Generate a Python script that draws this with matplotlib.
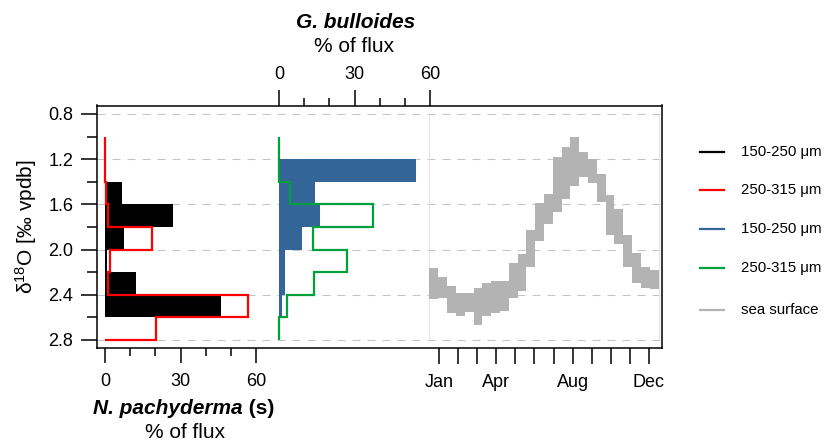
import numpy as np
import matplotlib.pyplot as plt
from matplotlib.lines import Line2D

plt.rcParams['font.family'] = ['Liberation Sans', 'DejaVu Sans']
plt.rcParams['mathtext.fontset'] = 'custom'
plt.rcParams['mathtext.rm'] = 'Liberation Sans'
plt.rcParams['mathtext.it'] = 'Liberation Sans:italic'
plt.rcParams['mathtext.bf'] = 'Liberation Sans:bold'

# d18O bins (per mil) and % of flux per size fraction
pachy_edges_small = [1.4, 1.6, 1.8, 2.0, 2.2, 2.4, 2.6, 2.8]
pachy_small = [6.6, 26.9, 7.5, 0.7, 12.3, 46.0, 0.0]
pachy_edges_large = [1.0, 1.2, 1.4, 1.6, 1.8, 2.0, 2.2, 2.4, 2.6, 2.8]
pachy_large = [0.0, 0.0, 0.4, 1.3, 18.5, 2.0, 1.3, 56.7, 20.2]

bull_edges_small = [1.2, 1.4, 1.6, 1.8, 2.0, 2.2, 2.4, 2.6]
bull_small = [54.4, 14.3, 16.3, 9.0, 2.4, 2.4, 1.1]
bull_edges_large = [1.0, 1.2, 1.4, 1.6, 1.8, 2.0, 2.2, 2.4, 2.6, 2.8]
bull_large = [0.0, 0.0, 4.4, 37.4, 13.6, 26.9, 14.0, 3.0, 0.0]

# sea surface d18O range, biweekly through the year (month units)
sst_edges = np.linspace(0.5, 12.5, 27)
sst_upper = [2.16, 2.24, 2.32, 2.38, 2.38, 2.34, 2.30, 2.28, 2.28, 2.12, 2.04, 1.83, 1.59,
             1.51, 1.18, 1.09, 1.00, 1.14, 1.20, 1.33, 1.52, 1.64, 1.87, 2.03, 2.15, 2.18]
sst_lower = [2.44, 2.43, 2.56, 2.59, 2.55, 2.67, 2.59, 2.56, 2.54, 2.43, 2.37, 2.15, 1.92,
             1.77, 1.67, 1.55, 1.44, 1.36, 1.41, 1.58, 1.87, 1.95, 2.15, 2.30, 2.34, 2.35]

month_labels = ['Jan', '', '', 'Apr', '', '', '', 'Aug', '', '', '', 'Dec']

c_black, c_red, c_blue, c_green, c_gray = 'black', '#ff0000', '#346599', '#00a03c', '#b3b3b3'

W, H = 828, 443
fig = plt.figure(figsize=(W / 100, H / 100), dpi=100)


def fx(x):
    return x / W


def fy(y):
    return 1 - y / H


rect = [fx(97), fy(348), fx(662) - fx(97), fy(105.5) - fy(348)]
ylim = (2.8708, 0.7248)

# N. pachyderma panel, also carries the frame and the d18O axis
ax1 = fig.add_axes(rect)
ax1.set_xlim(-3.18, 221.32)
ax1.set_ylim(*ylim)
ax1.set_axisbelow(True)
ax1.grid(axis='y', which='major', color='#c4c4c4', lw=0.75, ls=(0, (7.7, 6.7)))
ax1.stairs(pachy_small, pachy_edges_small, orientation='horizontal', fill=True,
           color=c_black, lw=1.0)
ax1.stairs(pachy_large, pachy_edges_large, orientation='horizontal', color=c_red, lw=1.6)

yt = [0.8, 1.2, 1.6, 2.0, 2.4, 2.8]
ax1.set_yticks(yt, [f'{v:.1f}' for v in yt])
ax1.set_yticks([1.0, 1.4, 1.8, 2.2, 2.6], minor=True)
ax1.set_xticks([0, 30, 60])
ax1.set_xticks([10, 20, 40, 50], minor=True)
ax1.tick_params(axis='y', which='major', length=11.5, width=1.1, pad=5.5, labelsize=13)
ax1.tick_params(axis='y', which='minor', length=7.2, width=1.1)
ax1.tick_params(axis='x', which='major', length=10.8, width=1.1, pad=7, labelsize=13)
ax1.tick_params(axis='x', which='minor', length=5.8, width=1.1)
for s in ax1.spines.values():
    s.set_linewidth(1.1)

# G. bulloides panel, scale on top
ax2 = fig.add_axes(rect)
ax2.patch.set_visible(False)
ax2.set_xlim(-72.31, 152.17)
ax2.set_ylim(*ylim)
ax2.stairs(bull_small, bull_edges_small, orientation='horizontal', fill=True,
           color=c_blue, lw=0)
ax2.stairs(bull_large, bull_edges_large, orientation='horizontal', color=c_green, lw=1.6)
ax2.xaxis.tick_top()
ax2.set_xticks([0, 30, 60])
ax2.set_xticks([10, 20, 40, 50], minor=True)
ax2.tick_params(axis='x', which='major', length=11.5, width=1.1, pad=4.5, labelsize=13)
ax2.tick_params(axis='x', which='minor', length=5.8, width=1.1)
ax2.yaxis.set_visible(False)
for s in ax2.spines.values():
    s.set_visible(False)

# sea surface panel, months along the bottom
ax3 = fig.add_axes(rect)
ax3.patch.set_visible(False)
ax3.set_xlim(-16.915, 12.682)
ax3.set_ylim(*ylim)
ax3.vlines([sst_edges[0], sst_edges[-1]], 0.8, 2.8, color='#e4e4e4', lw=0.8, zorder=0)
ax3.stairs(sst_upper, sst_edges, baseline=sst_lower, fill=True, color=c_gray, lw=0)
ax3.set_xticks(range(1, 13), month_labels)
ax3.tick_params(axis='x', which='major', length=11.5, width=1.1, pad=7, labelsize=13)
ax3.yaxis.set_visible(False)
for s in ax3.spines.values():
    s.set_visible(False)

# axis titles
fig.text(fx(26), fy(227), 'δ$^{18}$O [‰ vpdb]', rotation=90, ha='center', va='center',
         fontsize=15)
fig.text(fx(356), fy(22), 'G. bulloides', ha='center', va='center', fontsize=15,
         fontweight='bold', fontstyle='italic')
fig.text(fx(354), fy(47), '% of flux', ha='center', va='center', fontsize=15)
fig.text(fx(243), fy(408), 'N. pachyderma', ha='right', va='center', fontsize=15,
         fontweight='bold', fontstyle='italic')
fig.text(fx(243), fy(408), ' (s)', ha='left', va='center', fontsize=15, fontweight='bold')
fig.text(fx(185), fy(433), '% of flux', ha='center', va='center', fontsize=15)

# key
key = [('150-250 μm', c_black, 152), ('250-315 μm', c_red, 190),
       ('150-250 μm', c_blue, 229), ('250-315 μm', c_green, 268),
       ('sea surface', c_gray, 310)]
for label, color, y in key:
    fig.add_artist(Line2D([fx(700), fx(724)], [fy(y), fy(y)], color=color, lw=1.6))
    fig.text(fx(741), fy(y), label, ha='left', va='center', fontsize=10.8)

fig.savefig('out.png', dpi=100)
